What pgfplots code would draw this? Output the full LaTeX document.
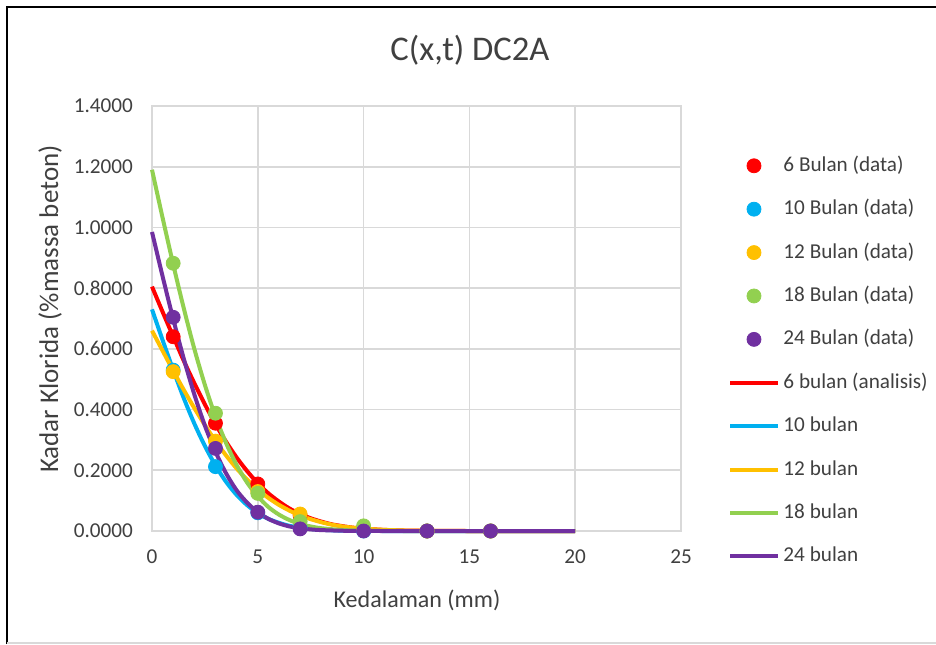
\documentclass[border=0pt]{standalone}
\usepackage{fontspec}
\setmainfont{Carlito}
\usepackage{pgfplots}
\pgfplotsset{compat=1.18}
\definecolor{cred}{HTML}{FF0000}
\definecolor{cblue}{HTML}{00B0F0}
\definecolor{cyel}{HTML}{FFC000}
\definecolor{cgreen}{HTML}{92D050}
\definecolor{cpurp}{HTML}{7030A0}
\definecolor{gridc}{HTML}{D9D9D9}
\definecolor{txt}{HTML}{404040}
\begin{document}
\begin{tikzpicture}
\path[use as bounding box] (0,0) rectangle (468pt,322pt);
\fill[white] (0,0) rectangle (468pt,322pt);
\draw[black, line width=1pt] (3.5pt,0) -- (3.5pt,318.5pt) -- (468pt,318.5pt);
\draw[gridc, line width=0.8pt] (3.5pt,0.5pt) -- (468pt,0.5pt);
\begin{axis}[
  at={(76pt,56.5pt)}, anchor=south west,
  scale only axis, width=264.5pt, height=212.5pt,
  xmin=0, xmax=25, ymin=0, ymax=1.4,
  xtick={0,5,10,15,20,25},
  ytick={0,0.2,0.4,0.6,0.8,1.0,1.2,1.4},
  grid=major,
  major grid style={gridc, line width=0.8pt},
  axis line style={gridc, line width=0.8pt},
  tick style={draw=none},
  clip=false,
  /pgf/number format/assume math mode=true,
  ticklabel style={font=\fontsize{10.6}{12}\selectfont, text=txt},
  yticklabel style={/pgf/number format/fixed, /pgf/number format/fixed zerofill, /pgf/number format/precision=4, xshift=-6pt},
  xticklabel style={yshift=-6pt},
  legend style={at={(1.089,0.885)}, anchor=north west, draw=none, fill=none, inner sep=0pt,
    font=\fontsize{10.6}{12}\selectfont, text=txt, row sep=11.2pt,
    nodes={inner xsep=2pt, inner ysep=0pt, text height=8pt, text depth=2.5pt}},
  legend cell align=left,
  legend image code/.code={\draw[mark repeat=2,mark phase=2,#1] plot coordinates {(0pt,0pt) (11.75pt,0pt) (23.5pt,0pt)};},
]
% data points
\addplot[only marks, mark=*, mark size=3.5pt, color=cred] coordinates {(1,0.64)(3,0.355)(5,0.155)(7,0.05)(10,0.006)(13,0)(16,0)};
\addlegendentry{6 Bulan (data)}
\addplot[only marks, mark=*, mark size=3.5pt, color=cblue] coordinates {(1,0.53)(3,0.212)(5,0.06)(7,0.012)(10,0)(13,0)(16,0)};
\addlegendentry{10 Bulan (data)}
\addplot[only marks, mark=*, mark size=3.5pt, color=cyel] coordinates {(1,0.525)(3,0.296)(5,0.13)(7,0.056)(10,0.01)(13,0)(16,0)};
\addlegendentry{12 Bulan (data)}
\addplot[only marks, mark=*, mark size=3.5pt, color=cgreen] coordinates {(1,0.882)(3,0.388)(5,0.124)(7,0.031)(10,0.017)(13,0)(16,0)};
\addlegendentry{18 Bulan (data)}
\addplot[only marks, mark=*, mark size=3.5pt, color=cpurp] coordinates {(1,0.704)(3,0.272)(5,0.062)(7,0.007)(10,0)(13,0)(16,0)};
\addlegendentry{24 Bulan (data)}
% analysis curves
\addplot[cred, line width=2pt, smooth, no marks] coordinates {(0,0.805)(0.5,0.722)(1,0.641)(1.5,0.561)(2,0.487)(2.5,0.417)(3,0.352)(3.5,0.294)(4,0.242)(4.5,0.197)(5,0.157)(5.5,0.124)(6,0.097)(6.5,0.074)(7,0.056)(7.5,0.042)(8,0.031)(8.5,0.022)(9,0.016)(9.5,0.011)(10,0.0077)(11,0.0036)(12,0.0015)(13,0.0006)(14,0.0002)(15,0)(16,0)(17,0)(18,0)(19,0)(20,0)};
\addlegendentry{6 bulan (analisis)}
\addplot[cblue, line width=2pt, smooth, no marks] coordinates {(0,0.730)(0.5,0.629)(1,0.531)(1.5,0.438)(2,0.354)(2.5,0.280)(3,0.216)(3.5,0.162)(4,0.119)(4.5,0.085)(5,0.059)(5.5,0.040)(6,0.027)(6.5,0.017)(7,0.011)(7.5,0.0066)(8,0.0040)(9,0.0012)(10,0.0003)(11,0)(12,0)(13,0)(14,0)(15,0)(16,0)(17,0)(18,0)(19,0)(20,0)};
\addlegendentry{10 bulan}
\addplot[cyel, line width=2pt, smooth, no marks] coordinates {(0,0.660)(0.5,0.594)(1,0.528)(1.5,0.465)(2,0.405)(2.5,0.349)(3,0.296)(3.5,0.249)(4,0.206)(4.5,0.169)(5,0.136)(5.5,0.109)(6,0.086)(6.5,0.067)(7,0.051)(7.5,0.039)(8,0.029)(8.5,0.021)(9,0.015)(9.5,0.011)(10,0.0077)(11,0.0038)(12,0.0016)(13,0.0007)(14,0.0003)(15,0)(16,0)(17,0)(18,0)(19,0)(20,0)};
\addlegendentry{12 bulan}
\addplot[cgreen, line width=2pt, smooth, no marks] coordinates {(0,1.190)(0.5,1.032)(1,0.879)(1.5,0.734)(2,0.600)(2.5,0.481)(3,0.377)(3.5,0.290)(4,0.217)(4.5,0.159)(5,0.114)(5.5,0.079)(6,0.054)(6.5,0.036)(7,0.023)(7.5,0.015)(8,0.0092)(9,0.0033)(10,0.0011)(11,0.0003)(12,0)(13,0)(14,0)(15,0)(16,0)(17,0)(18,0)(19,0)(20,0)};
\addlegendentry{18 bulan}
\addplot[cpurp, line width=2pt, smooth, no marks] coordinates {(0,0.985)(0.5,0.839)(1,0.699)(1.5,0.568)(2,0.450)(2.5,0.347)(3,0.261)(3.5,0.190)(4,0.134)(4.5,0.093)(5,0.062)(5.5,0.040)(6,0.025)(6.5,0.015)(7,0.0092)(7.5,0.0053)(8,0.0030)(9,0.0009)(10,0.0002)(11,0)(12,0)(13,0)(14,0)(15,0)(16,0)(17,0)(18,0)(19,0)(20,0)};
\addlegendentry{24 bulan}
\end{axis}
\node[text=txt, font=\fontsize{17.3}{20}\selectfont] at (235pt,297pt) {C(x,t) DC2A};
\node[text=txt, font=\fontsize{12}{14}\selectfont] at (208.5pt,22pt) {Kedalaman (mm)};
\node[text=txt, rotate=90, font=\fontsize{13.5}{16}\selectfont] at (25pt,167.5pt) {Kadar Klorida (\%massa beton)};
\end{tikzpicture}
\end{document}
